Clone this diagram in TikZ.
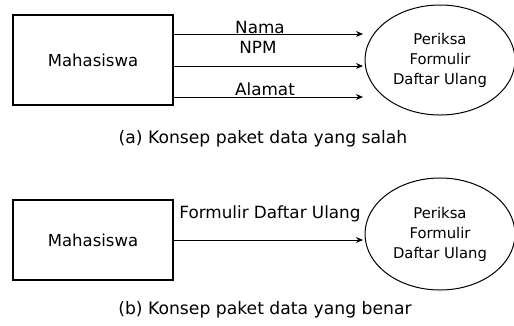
\documentclass[tikz,border=0pt]{standalone}
\usepackage{fontspec}
\setmainfont{DejaVu Sans}
\usetikzlibrary{shapes.geometric,arrows.meta}
\tikzset{
  entity/.style={draw, line width=1.1pt, minimum width=160pt, inner sep=0pt,
    font=\fontsize{16.5}{20}\selectfont},
  process/.style={draw, ellipse, line width=1pt, minimum width=150pt, inner sep=0pt,
    align=center, font=\fontsize{14.8}{20}\selectfont},
  flow/.style={line width=0.9pt, -{Stealth[length=7pt,width=6pt]}},
  flowlabel/.style={inner sep=0pt, font=\fontsize{16.8}{20}\selectfont},
  caption/.style={inner sep=0pt, font=\fontsize{17.2}{20}\selectfont}
}
\begin{document}
\begin{tikzpicture}[x=1pt,y=-1pt]
\useasboundingbox (0,0) rectangle (514,325);

% (a) three separate data flows
\node[entity, minimum height=90pt] (mhsA) at (93,60) {Mahasiswa};
\node[process, minimum height=110pt] (prsA) at (440,60) {Periksa\\Formulir\\Daftar Ulang};
\coordinate (endA1) at (363,34);
\coordinate (endA2) at (363,66);
\coordinate (endA3) at (363,97);
\draw[flow] (mhsA.east |- endA1) -- (endA1);
\draw[flow] (mhsA.east |- endA2) -- (endA2);
\draw[flow] (mhsA.east |- endA3) -- (endA3);
\node[flowlabel] (lblNama) at (260,27) {Nama};
\node[flowlabel] (lblNpm) at (258,47) {NPM};
\node[flowlabel] (lblAlamat) at (265,89.5) {Alamat};
\node[caption] (capA) at (263,139) {(a) Konsep paket data yang salah};

% (b) one data packet
\node[entity, minimum height=80pt] (mhsB) at (93,240) {Mahasiswa};
\node[process, minimum height=112pt] (prsB) at (440,234) {Periksa\\Formulir\\Daftar Ulang};
\coordinate (endB) at (363,240);
\draw[flow] (mhsB.east |- endB) -- (endB);
\node[flowlabel] (lblForm) at (270,214) {Formulir Daftar Ulang};
\node[caption] (capB) at (265,310) {(b) Konsep paket data yang benar};
\end{tikzpicture}
\end{document}
